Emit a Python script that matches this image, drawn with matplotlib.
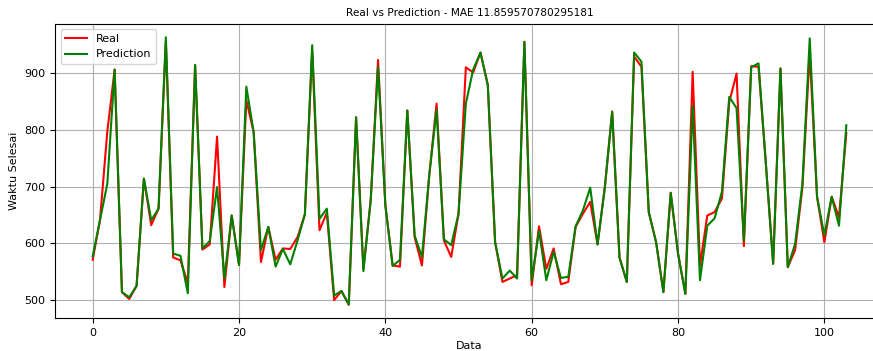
import numpy as np
import matplotlib
matplotlib.use('Agg')
import matplotlib.pyplot as plt

# Values
real = [571, 641, 797, 906, 514, 502, 525, 714, 632, 661,
        955, 575, 570, 530, 914, 589, 598, 788, 523, 649,
        562, 852, 796, 567, 629, 571, 591, 590, 611, 651,
        940, 623, 654, 500, 516, 492, 822, 555, 676, 923,
        667, 561, 559, 834, 611, 561, 720, 846, 605, 576,
        652, 910, 901, 936, 879, 602, 532, 538, 544, 955,
        526, 630, 555, 591, 528, 532, 629, 652, 673, 598,
        699, 832, 575, 532, 929, 911, 655, 602, 514, 689,
        582, 511, 902, 561, 649, 655, 679, 849, 899, 595,
        912, 911, 741, 564, 908, 558, 588, 699, 935, 682,
        602, 682, 646, 794]

prediction = [577, 641, 705, 906, 514, 505, 525, 714, 641, 661,
              963, 582, 578, 512, 914, 591, 604, 699, 538, 649,
              562, 876, 796, 588, 629, 559, 590, 563, 605, 651,
              949, 643, 661, 508, 516, 492, 822, 551, 676, 911,
              667, 560, 571, 834, 614, 576, 720, 835, 607, 597,
              652, 846, 906, 936, 879, 602, 538, 552, 538, 955,
              535, 622, 535, 585, 539, 541, 630, 658, 698, 598,
              699, 832, 575, 532, 936, 920, 655, 602, 514, 689,
              582, 511, 842, 535, 631, 644, 691, 858, 838, 605,
              910, 917, 741, 564, 908, 558, 599, 705, 961, 682,
              614, 682, 631, 808]

mae = 11.859570780295181

plt.rcParams['font.family'] = 'DejaVu Sans'
plt.rcParams['font.size'] = 8

fig = plt.figure(figsize=(8.73, 3.51), dpi=100)
# the reference is cropped on the right, so the axes run past the figure edge
ax = fig.add_axes([0.063, 0.094, 0.9496, 0.838])

ax.plot(real, color='red', linewidth=1.5, label='Real')
ax.plot(prediction, color='green', linewidth=1.5, label='Prediction')

ax.set_title(f'Real vs Prediction - MAE {mae}', fontsize=7.6)
ax.set_xlabel('Data', fontsize=8, labelpad=2)
ax.set_ylabel('Waktu Selesai', fontsize=8)
ax.tick_params(labelsize=8)
ax.grid(True)
ax.legend(loc='upper left', fontsize=8)

fig.savefig('out.png', dpi=100)
